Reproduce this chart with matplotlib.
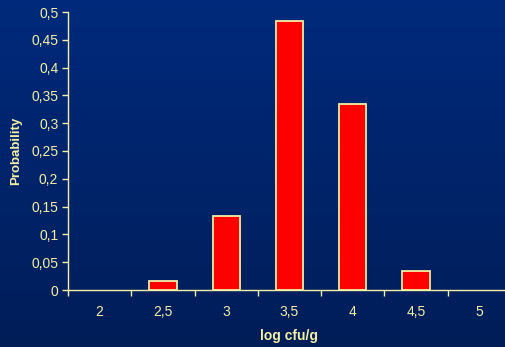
import numpy as np
import matplotlib
matplotlib.use("Agg")
import matplotlib.pyplot as plt
from matplotlib.colors import LinearSegmentedColormap

# distribution of log counts
categories = ["2", "2,5", "3", "3,5", "4", "4,5", "5"]
probability = [0.0, 0.016, 0.133, 0.484, 0.335, 0.034, 0.0]
y_ticks = [0, 0.05, 0.1, 0.15, 0.2, 0.25, 0.3, 0.35, 0.4, 0.45, 0.5]

TEXT = "#f4f0a4"
plt.rcParams["font.family"] = ["Liberation Sans", "DejaVu Sans"]

fig = plt.figure(figsize=(5.05, 3.47), dpi=100)

# navy background, slightly lighter at the top
bg = fig.add_axes([0, 0, 1, 1], zorder=-10)
cmap = LinearSegmentedColormap.from_list("bg", ["#001d58", "#002a7c"])
bg.imshow(np.linspace(0, 1, 256).reshape(-1, 1), aspect="auto", cmap=cmap,
          origin="lower", extent=[0, 1, 0, 1])
bg.axis("off")

ax = fig.add_axes([68 / 505, 57 / 347, 443 / 505, 278 / 347])
ax.patch.set_alpha(0)

x = np.arange(len(categories))
# empty classes get no outline
edges = [TEXT if p > 0 else "none" for p in probability]
ax.bar(x, probability, width=0.43, color="#ff0000", edgecolor=edges, linewidth=1.3)

ax.set_xlim(-0.5, len(categories) - 0.5)
ax.set_ylim(0, 0.5)

ax.set_yticks(y_ticks)
ax.set_yticklabels([f"{v:g}".replace(".", ",") for v in y_ticks])
ax.set_xticks(np.arange(len(categories) + 1) - 0.5)
ax.set_xticklabels([])
ax.set_xticks(x, minor=True)
ax.set_xticklabels(categories, minor=True)

ax.tick_params(axis="both", which="major", color=TEXT, labelcolor=TEXT,
               labelsize=10, length=4, width=1)
ax.tick_params(axis="x", which="minor", length=0, labelcolor=TEXT,
               labelsize=10, pad=11)
ax.tick_params(axis="y", pad=3)

for side in ["top", "right"]:
    ax.spines[side].set_visible(False)
for side in ["left", "bottom"]:
    ax.spines[side].set_color(TEXT)
    ax.spines[side].set_linewidth(1)

ax.set_ylabel("Probability", color=TEXT, fontsize=9.5, fontweight="bold")
ax.yaxis.set_label_coords(-(68 - 16) / 443, 0.5)
ax.set_xlabel("log cfu/g", color=TEXT, fontsize=10, fontweight="bold")
ax.xaxis.set_label_coords((289 - 68) / 443, -(336 - 290) / 278)
ax.xaxis.label.set_va("center")
ax.yaxis.label.set_va("center")

fig.savefig("out.png", dpi=100)
